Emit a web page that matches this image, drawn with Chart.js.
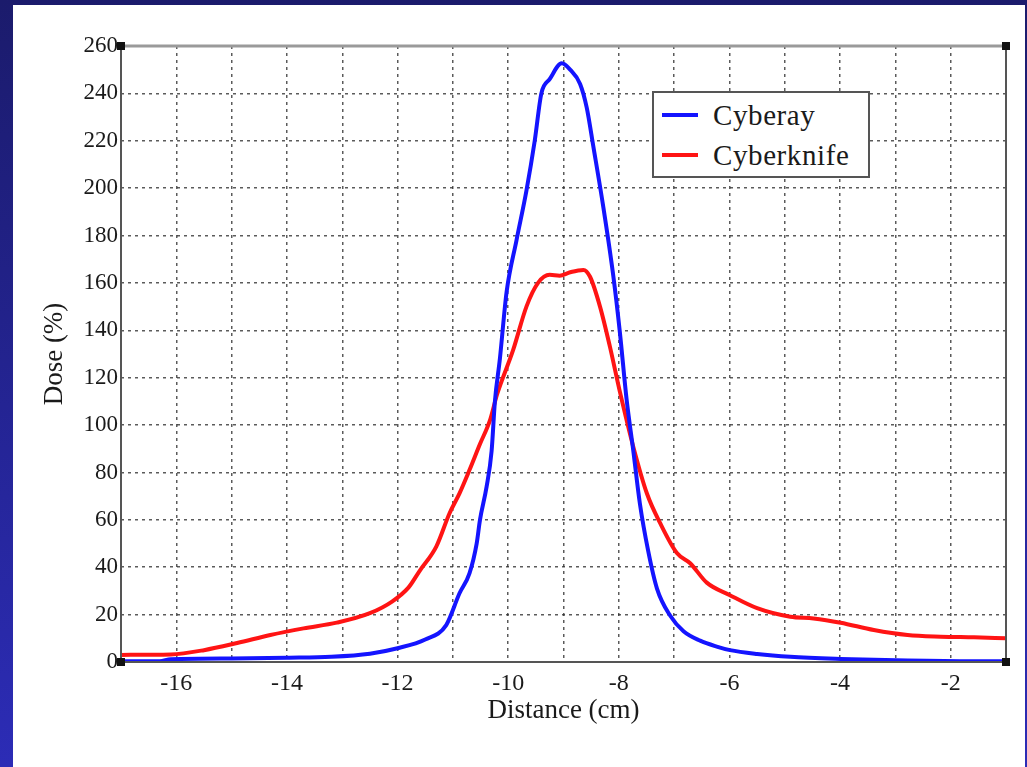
<!DOCTYPE html>
<html lang="en">
<head>
    <meta charset="UTF-8">
    <title>Dose profile</title>
    <script src="https://cdn.jsdelivr.net/npm/chart.js@4.4.1/dist/chart.umd.min.js"></script>
    <style>
        body { margin: 0; width: 1027px; height: 767px; overflow: hidden;
               background: linear-gradient(#1b1b6c, #2c2cb6); position: relative; }
        #panel { position: absolute; left: 13px; top: 5px; width: 1012px; height: 762px; background: #fff; }
        #wrap { position: absolute; left: 0; top: 0; width: 1027px; height: 767px; }
        #legend { position: absolute; left: 652px; top: 91px; width: 214px; height: 83px;
                  border: 2px solid #555; background: #fff; font-family: 'Liberation Serif', serif;
                  font-size: 29px; letter-spacing: 0.6px; color: #1a1a1a; }
        .row { position: absolute; left: 0; height: 34px; line-height: 34px; }
        .row span.swatch { position: absolute; left: 8px; top: 15px; width: 36px; height: 4px; }
        .row span.txt { position: absolute; left: 59px; top: 0; white-space: nowrap; }
    </style>
</head>
<body>
    <div id="panel"></div>
    <div id="wrap"><canvas id="myChart" width="1027" height="767"></canvas></div>
    <div id="legend"></div>
<script>
    const seriesNames = ['Cyberay', 'Cyberknife'];
    const seriesColors = ['#1414ff', '#ff1414'];

    const cyberayX = [-17.0, -16.3, -16.1, -15.0, -14.0, -13.2, -12.5, -12.0, -11.5, -11.12, -10.88, -10.7,
        -10.57, -10.51, -10.39, -10.3, -10.24, -10.15, -10.03, -9.85, -9.67, -9.52, -9.4, -9.25, -9.03,
        -8.88, -8.7, -8.58, -8.46, -8.28, -8.1, -7.98, -7.86, -7.74, -7.62, -7.47, -7.31, -7.07, -6.83,
        -6.53, -6.23, -5.99, -5.5, -4.9, -3.99, -2.78, -1.58, -1.0];
    const cyberayY = [0.3, 0.3, 1.2, 1.5, 1.8, 2.2, 3.5, 5.8, 9.5, 15.6, 29, 37.4,
        50, 60, 74, 89, 110, 128, 156, 178, 199, 220, 240, 246, 252.7,
        250, 244, 234, 217.5, 192, 163, 139, 111, 89.5, 67, 47, 31, 19.5, 13,
        9, 6.5, 5, 3.4, 2.2, 1.3, 0.6, 0.3, 0.3];

    const knifeX = [-17.0, -16.1, -15.5, -14.9, -14.3, -13.7, -13.1, -12.5, -12.1, -11.8, -11.6, -11.3,
        -11.06, -10.88, -10.7, -10.51, -10.33, -10.2, -9.91, -9.67, -9.46, -9.25, -9.07, -8.88, -8.64,
        -8.52, -8.34, -8.16, -7.98, -7.74, -7.49, -7.25, -6.95, -6.71, -6.41, -6.0, -5.5, -4.9, -4.48,
        -3.99, -3.39, -2.78, -2.18, -1.58, -1.0];
    const knifeY = [3, 3.2, 5, 8, 11.4, 14.2, 16.6, 20.6, 25.5, 31.5, 38.5, 48.7,
        62.8, 71.2, 81, 92, 102, 113, 131.7, 150, 160, 163.4, 163, 164.5, 165.5,
        162.6, 150, 133, 114, 91, 71, 58.5, 46, 41.7, 33.5, 28.3, 22.7, 19.1, 18.4,
        16.6, 13.5, 11.4, 10.7, 10.4, 10];

    const xMin = -17, xMax = -1, xStep = 1;
    const yMin = 0, yMax = 260, yStep = 10;
    const xTitle = 'Distance (cm)';
    const yTitle = 'Dose (%)';

    function toPoints(xs, ys) {
        return xs.map((x, i) => ({ x: x, y: ys[i] }));
    }

    const serif = "'Liberation Serif', 'Times New Roman', serif";

    // frame round the plot, grey top edge and small corner squares
    const framePlugin = {
        id: 'frame',
        afterDraw(chart) {
            const a = chart.chartArea, c = chart.ctx;
            c.save();
            c.strokeStyle = '#555';
            c.lineWidth = 2;
            c.strokeRect(a.left, a.top, a.right - a.left, a.bottom - a.top);
            c.strokeStyle = '#9a9a9a';
            c.lineWidth = 3;
            c.beginPath(); c.moveTo(a.left, a.top); c.lineTo(a.right, a.top); c.stroke();
            c.fillStyle = '#111';
            [[a.left, a.top], [a.right, a.top], [a.left, a.bottom], [a.right, a.bottom]].forEach(p => {
                c.fillRect(p[0] - 4, p[1] - 4, 8, 8);
            });
            c.restore();
        }
    };

    const data = {
        datasets: [{
            label: seriesNames[0],
            data: toPoints(cyberayX, cyberayY),
            borderColor: seriesColors[0],
            backgroundColor: seriesColors[0],
            borderWidth: 4,
            pointRadius: 0,
            cubicInterpolationMode: 'monotone'
        }, {
            label: seriesNames[1],
            data: toPoints(knifeX, knifeY),
            borderColor: seriesColors[1],
            backgroundColor: seriesColors[1],
            borderWidth: 4,
            pointRadius: 0,
            cubicInterpolationMode: 'monotone'
        }]
    };

    const gridOpts = {
        color: 'rgba(50,50,50,0.8)',
        lineWidth: 1.5,
        borderDash: [3, 4],
        drawTicks: false
    };

    const config = {
        type: 'line',
        data,
        plugins: [framePlugin],
        options: {
            responsive: false,
            animation: false,
            layout: { padding: { top: 46, right: 21, left: 0, bottom: 0 } },
            plugins: { legend: { display: false }, tooltip: { enabled: false } },
            scales: {
                x: {
                    type: 'linear',
                    min: xMin, max: xMax,
                    grid: gridOpts,
                    border: { display: false, dash: [3, 4] },
                    ticks: {
                        stepSize: xStep,
                        padding: 7,
                        color: '#1a1a1a',
                        font: { family: serif, size: 24 },
                        callback: v => (v % 2 === 0 && v !== xMin && v !== xMax) ? String(v) : ''
                    },
                    title: {
                        display: true, text: xTitle, color: '#1a1a1a',
                        font: { family: serif, size: 27 },
                        padding: { top: 0, bottom: 40 }
                    },
                    afterFit: s => { s.height = 105; }
                },
                y: {
                    min: yMin, max: yMax,
                    grid: gridOpts,
                    border: { display: false, dash: [3, 4] },
                    ticks: {
                        stepSize: yStep,
                        padding: 3,
                        color: '#1a1a1a',
                        font: { family: serif, size: 23 },
                        callback: v => (v % 20 === 0) ? String(v) : ''
                    },
                    title: {
                        display: true, text: yTitle, color: '#1a1a1a',
                        font: { family: serif, size: 27 },
                        padding: { top: 39, bottom: 0 }
                    },
                    afterFit: s => { s.width = 121; }
                }
            }
        }
    };

    var myChart = new Chart(document.getElementById('myChart'), config);

    // legend box as html, filled from the datasets
    const legend = document.getElementById('legend');
    myChart.data.datasets.forEach((ds, i) => {
        const row = document.createElement('div');
        row.className = 'row';
        row.style.top = (5 + i * 40) + 'px';
        row.innerHTML = '<span class="swatch" style="background:' + ds.borderColor + '"></span>' +
                        '<span class="txt">' + ds.label + '</span>';
        legend.appendChild(row);
    });
</script>
</body>
</html>
